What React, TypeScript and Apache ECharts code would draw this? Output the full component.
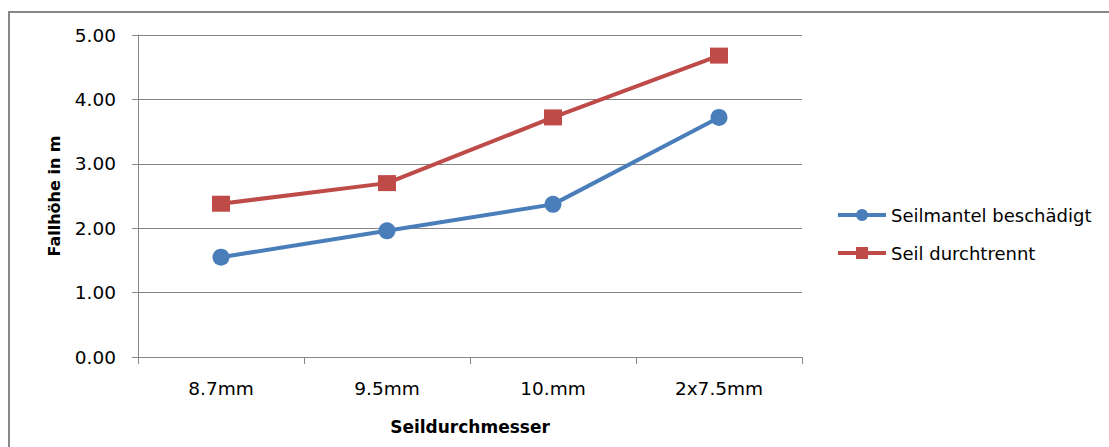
import React, { useEffect, useRef } from "react";
import * as echarts from "echarts";

const categories = ["8.7mm", "9.5mm", "10.mm", "2x7.5mm"];
const seilmantel = [1.55, 1.96, 2.37, 3.72];
const durchtrennt = [2.38, 2.7, 3.72, 4.68];
const seriesNames = ["Seilmantel beschädigt", "Seil durchtrennt"];

const FONT = "'DejaVu Sans', 'Liberation Sans', sans-serif";

export default function App() {
  const ref = useRef<HTMLDivElement>(null);
  useEffect(() => {
    if (!ref.current) return;
    const chart = echarts.init(ref.current, null, { renderer: "svg" });
    chart.setOption({
      animation: false,
      backgroundColor: "#ffffff",
      graphic: [
        {
          type: "rect",
          shape: { x: 9, y: 12, width: 1200, height: 500 },
          style: { fill: "none", stroke: "#868686", lineWidth: 2 },
          silent: true,
        },
      ],
      grid: { left: 138, top: 35, width: 664, height: 322, containLabel: false },
      legend: {
        orient: "vertical",
        left: 836,
        top: 206,
        padding: 0,
        itemGap: 20,
        itemWidth: 48,
        itemHeight: 15,
        lineStyle: { width: 4 },
        textStyle: { fontFamily: FONT, fontSize: 18, color: "#000", padding: [0, 0, 0, 0] },
        data: seriesNames,
      },
      xAxis: {
        type: "category",
        data: categories,
        boundaryGap: true,
        name: "Seildurchmesser",
        nameLocation: "middle",
        nameGap: 61,
        nameTextStyle: { fontFamily: FONT, fontSize: 17, fontWeight: "bold", color: "#000" },
        axisLine: { lineStyle: { color: "#868686", width: 1 } },
        axisTick: { show: true, length: 7, lineStyle: { color: "#868686" } },
        axisLabel: { fontFamily: FONT, fontSize: 18.5, color: "#000", margin: 22 },
      },
      yAxis: {
        type: "value",
        min: 0,
        max: 5,
        interval: 1,
        name: "Fallhöhe in m",
        nameLocation: "middle",
        nameGap: 76,
        nameRotate: 90,
        nameTextStyle: { fontFamily: FONT, fontSize: 16, fontWeight: "bold", color: "#000" },
        axisLine: { show: true, lineStyle: { color: "#868686", width: 1 } },
        axisTick: { show: true, length: 6, lineStyle: { color: "#868686" } },
        splitLine: { lineStyle: { color: "#868686", width: 1 } },
        axisLabel: {
          fontFamily: FONT,
          fontSize: 18.5,
          color: "#000",
          margin: 22,
          formatter: (v: number) => v.toFixed(2),
        },
      },
      series: [
        {
          name: seriesNames[0],
          type: "line",
          data: seilmantel,
          symbol: "circle",
          symbolSize: 17,
          lineStyle: { color: "#4A7EBB", width: 4 },
          itemStyle: { color: "#4A7EBB" },
        },
        {
          name: seriesNames[1],
          type: "line",
          data: durchtrennt,
          symbol: "rect",
          symbolSize: [18, 16],
          lineStyle: { color: "#BE4B48", width: 4 },
          itemStyle: { color: "#BE4B48" },
        },
      ],
    });
    return () => chart.dispose();
  }, []);
  return (
    <div
      ref={ref}
      style={{ position: "absolute", left: 0, top: 0, width: 1109, height: 447 }}
    />
  );
}
